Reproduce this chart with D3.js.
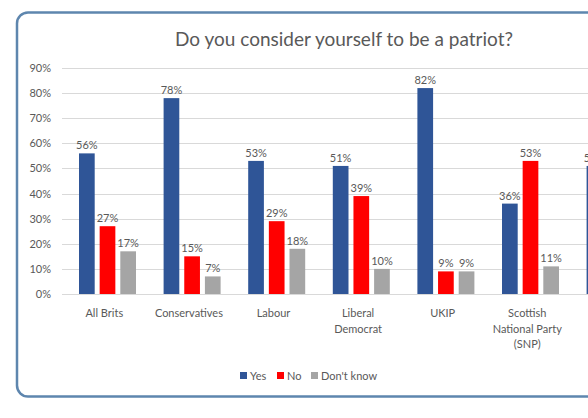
<!DOCTYPE html>
<html><head><meta charset="utf-8">
<script src="https://cdn.jsdelivr.net/npm/d3@7"></script>
<style>
html,body{margin:0;padding:0;background:#fff;overflow:hidden}
svg{display:block}
</style></head>
<body>
<svg id="chart" width="588" height="418"></svg>
<script>
const categories = [["All Brits"],["Conservatives"],["Labour"],["Liberal","Democrat"],["UKIP"],["Scottish","National Party","(SNP)"],[""]];
const seriesNames = ["Yes","No","Don't know"];
const yesValues = [56,78,53,51,82,36,51];
const noValues = [27,15,29,39,9,53,null];
const dkValues = [17,7,18,10,9,11,null];
const yTicks = [0,10,20,30,40,50,60,70,80,90];
const colors = ["#2F5597","#FF0000","#A5A5A5"];
const title = "Do you consider yourself to be a patriot?";

const svg = d3.select("#chart");
const font = "Lato, 'Open Sans', sans-serif";
const textCol = "#595959";

// frame
svg.append("rect").attr("x",17).attr("y",12.5).attr("width",620).attr("height",384)
  .attr("rx",11).attr("ry",11).attr("fill","#fff").attr("stroke","#5E86AE").attr("stroke-width",2.5);

const plotLeft = 62, bandW = 84.6;
const x = d3.scaleBand().domain(d3.range(categories.length)).range([plotLeft, plotLeft + bandW*categories.length]).paddingInner(0).paddingOuter(0);
const y = d3.scaleLinear().domain([0,90]).range([294,68]);
const inner = d3.scaleBand().domain(d3.range(3)).range([17, 17+19*3]).paddingInner(0.24).paddingOuter(0);

// grid
svg.append("g").selectAll("line").data(yTicks).join("line")
  .attr("x1",plotLeft).attr("x2",600).attr("y1",d=>Math.round(y(d))+0.5).attr("y2",d=>Math.round(y(d))+0.5)
  .attr("stroke","#D9D9D9").attr("stroke-width",1);

// y axis labels
const yAxis = d3.axisLeft(y).tickValues(yTicks).tickFormat(d=>d+"%").tickSize(0).tickPadding(0);
const ya = svg.append("g").attr("transform","translate(51,0)").call(yAxis);
ya.select(".domain").remove();
ya.selectAll("text").attr("font-family",font).attr("font-size",11).attr("fill",textCol);

const series = [yesValues,noValues,dkValues];
series.forEach((vals,si)=>{
  const g = svg.append("g");
  const data = vals.map((v,i)=>({v,i})).filter(d=>d.v!=null);
  g.selectAll("rect").data(data).join("rect")
    .attr("x",d=>x(d.i)+inner(si)).attr("width",inner.bandwidth())
    .attr("y",d=>y(d.v)).attr("height",d=>y(0)-y(d.v)).attr("fill",colors[si]);
  g.selectAll("text").data(data).join("text")
    .attr("x",d=>x(d.i)+inner(si)+inner.bandwidth()/2).attr("y",d=>y(d.v)-4)
    .attr("text-anchor","middle").attr("font-family",font).attr("font-size",11).attr("fill",textCol)
    .text(d=>d.v+"%");
});

// category labels
const cg = svg.append("g");
categories.forEach((lines,i)=>{
  const t = cg.append("text").attr("x",x(i)+x.bandwidth()/2).attr("y",317)
    .attr("text-anchor","middle").attr("font-family",font).attr("font-size",11).attr("fill",textCol);
  lines.forEach((l,j)=>t.append("tspan").attr("x",x(i)+x.bandwidth()/2).attr("dy",j?15.7:0).text(l));
});

// title
svg.append("text").attr("x",344).attr("y",46).attr("text-anchor","middle")
  .attr("font-family",font).attr("font-size",19).attr("fill",textCol).text(title);

// legend
const legX = [240,277,311];
const lg = svg.append("g");
seriesNames.forEach((n,i)=>{
  lg.append("rect").attr("x",legX[i]).attr("y",372).attr("width",7).attr("height",7).attr("fill",colors[i]);
  lg.append("text").attr("x",legX[i]+10).attr("y",379.5).attr("font-family",font).attr("font-size",11).attr("fill",textCol).text(n);
});
</script>
</body></html>
